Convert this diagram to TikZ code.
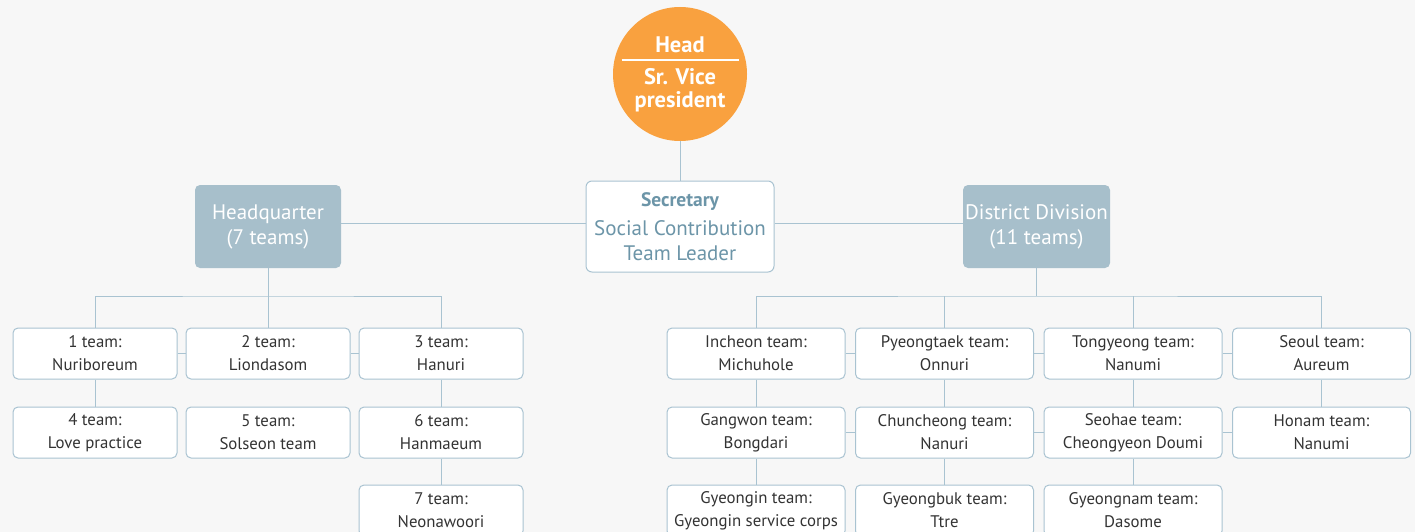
\documentclass[tikz,border=0pt]{standalone}
\usepackage{fontspec}
\setmainfont{PT Sans}
\usepackage{xcolor}
\usetikzlibrary{positioning}

\definecolor{bggray}{HTML}{F7F7F7}
\definecolor{headorange}{HTML}{F9A13F}
\definecolor{divblue}{HTML}{A7BFCB}
\definecolor{linkblue}{HTML}{A9C3D1}
\definecolor{secblue}{HTML}{6C95A8}
\definecolor{teamgray}{HTML}{333333}

\begin{document}
\begin{tikzpicture}[x=1pt, y=-1pt,
  head/.style={circle, fill=headorange, minimum size=134pt, inner sep=0pt, align=center, text=white, font=\fontsize{22.5}{23}\selectfont\bfseries},
  division/.style={fill=divblue, rounded corners=5pt, minimum width=146pt, minimum height=83pt, inner sep=0pt, align=center, text=white, font=\fontsize{21}{25}\selectfont},
  secbox/.style={draw=linkblue, line width=1pt, fill=white, rounded corners=6pt, minimum width=188pt, minimum height=91pt, inner sep=0pt, align=center, text=secblue, font=\fontsize{21}{25}\selectfont},
  team/.style={draw=linkblue, line width=1pt, fill=white, rounded corners=5pt, minimum width=164pt, minimum height=51pt, inner sep=0pt, align=center, text=teamgray, font=\fontsize{16.8}{23}\selectfont},
  rteam/.style={team, minimum width=178pt},
  link/.style={draw=linkblue, line width=1pt},
]
\useasboundingbox (0,0) rectangle (1415,532);
\clip (0,0) rectangle (1415,532);
\fill[bggray] (0,0) rectangle (1415,532);

% top of the chart
\node[head] (head) at (680,74) {Head\\[9pt]Sr. Vice\\president};
\draw[white, line width=1.3pt] ([shift={(-58.5,-14)}]head.center) -- ([shift={(58.5,-14)}]head.center);
\node[secbox] (sec) at (680,226.5) {{\bfseries\fontsize{19.5}{25}\selectfont Secretary}\\[4pt]Social Contribution\\Team Leader};
\node[division] (hq) at (268,226.5) {Headquarter\\(7 teams)};
\node[division, minimum width=147pt] (dd) at (1036.5,226.5) {District Division\\(11 teams)};

\draw[link] (head) -- (sec);
\draw[link] ([yshift=3.5pt]hq.east) -- ([yshift=3.5pt]sec.west);
\draw[link] ([yshift=3.5pt]sec.east) -- ([yshift=3.5pt]dd.west);

% headquarter teams
\node[team] (team1) at (95,353.5) {1 team:\\Nuriboreum};
\node[team, right=8pt of team1] (team2) {2 team:\\Liondasom};
\node[team, right=8pt of team2] (team3) {3 team:\\Hanuri};
\node[team, below=27pt of team1] (team4) {4 team:\\Love practice};
\node[team, below=27pt of team2] (team5) {5 team:\\Solseon team};
\node[team, below=27pt of team3] (team6) {6 team:\\Hanmaeum};
\node[team, below=26pt of team6] (team7) {7 team:\\Neonawoori};

\coordinate (hqbus) at (268,296);
\draw[link] (hq) -- (team2);
\draw[link] (team1.north) |- (hqbus) -| (team3.north);
\draw[link] (team1) -- (team2);
\draw[link] (team2) -- (team3);
\draw[link] (team1) -- (team4);
\draw[link] (team3) -- (team6);
\draw[link] (team6) -- (team7);

% district teams
\node[rteam] (incheon) at (756,353.5) {Incheon team:\\Michuhole};
\node[rteam, right=9.5pt of incheon] (pyeongtaek) {Pyeongtaek team:\\Onnuri};
\node[rteam, right=9.5pt of pyeongtaek] (tongyeong) {Tongyeong team:\\Nanumi};
\node[rteam, right=9.5pt of tongyeong] (seoul) {Seoul team:\\Aureum};
\node[rteam, below=27pt of incheon] (gangwon) {Gangwon team:\\Bongdari};
\node[rteam, below=27pt of pyeongtaek] (chuncheong) {Chuncheong team:\\Nanuri};
\node[rteam, below=27pt of tongyeong] (seohae) {Seohae team:\\Cheongyeon Doumi};
\node[rteam, below=27pt of seoul] (honam) {Honam team:\\Nanumi};
\node[rteam, below=26pt of gangwon] (gyeongin) {Gyeongin team:\\Gyeongin service corps};
\node[rteam, below=26pt of chuncheong] (gyeongbuk) {Gyeongbuk team:\\Ttre};
\node[rteam, below=26pt of seohae] (gyeongnam) {Gyeongnam team:\\Dasome};

\coordinate (ddbus) at (1036.5,296);
\draw[link] (dd) -- (ddbus);
\draw[link] (incheon.north) |- (ddbus) -| (seoul.north);
\draw[link] (pyeongtaek.north) -- (pyeongtaek.north |- ddbus);
\draw[link] (tongyeong.north) -- (tongyeong.north |- ddbus);
\draw[link] (incheon) -- (pyeongtaek);
\draw[link] (pyeongtaek) -- (tongyeong);
\draw[link] (tongyeong) -- (seoul);
\draw[link] (gangwon) -- (chuncheong);
\draw[link] (chuncheong) -- (seohae);
\draw[link] (seohae) -- (honam);
\draw[link] (incheon) -- (gangwon);
\draw[link] (gangwon) -- (gyeongin);
\draw[link] (pyeongtaek) -- (chuncheong);
\draw[link] (chuncheong) -- (gyeongbuk);
\draw[link] (tongyeong) -- (seohae);
\draw[link] (seohae) -- (gyeongnam);
\draw[link] (seoul) -- (honam);
\end{tikzpicture}
\end{document}
